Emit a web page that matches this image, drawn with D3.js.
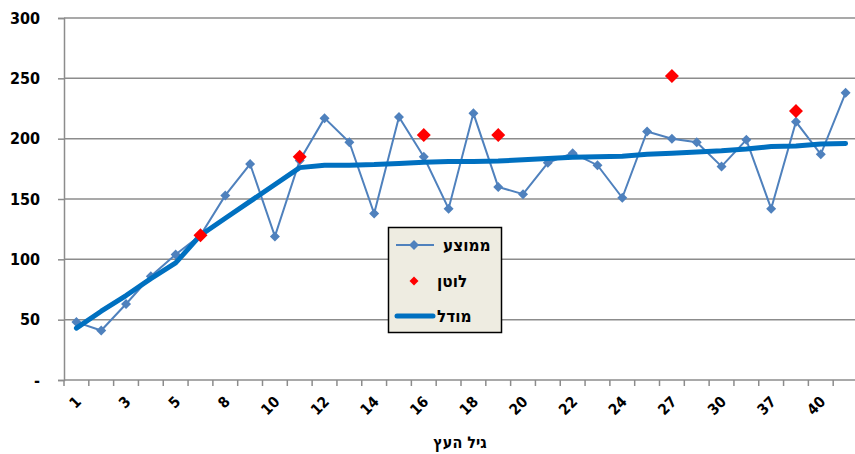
<!DOCTYPE html>
<html><head><meta charset="utf-8">
<script src="https://cdn.jsdelivr.net/npm/d3@7"></script>
<style>
body{margin:0;background:#fff;}
svg text{font-family:"DejaVu Sans Condensed","DejaVu Sans",sans-serif;font-weight:bold;fill:#000;}
</style></head>
<body><svg id="c" width="855" height="454"></svg>
<script>
const categories = ["1","2","3","4","5","7","8","9","10","11","12","13","14","15","16","17","18","19","20","21","22","23","24","25","27","28","30","33","37","38","40","45"];
const tickLabels = ["1","3","5","8","10","12","14","16","18","20","22","24","27","30","37","40"];
const avgValues = [48,41,63,86,104,120,153,179,119,182,217,197,138,218,185,142,221,160,154,180,188,178,151,206,200,197,177,199,142,214,187,238];
const lotanValues = [null,null,null,null,null,120,null,null,null,185,null,null,null,null,203,null,null,203,null,null,null,null,null,null,252,null,null,null,null,223,null,null];
const modelValues = [43,57,70,84,97,120,134,148,162,176,178,178,178.5,179.5,180.5,181,181,181.5,182.5,183.5,184.5,185,185.5,187,188,189,190,191.5,193.5,194,195.5,196];
const yTicks = [0,50,100,150,200,250,300];
const seriesNames = ["ממוצע","לוטן","מודל"];
const xTitle = "גיל העץ";

const svg = d3.select("#c");
const L=64,R=858,T=18,B=380;
const x = d3.scaleBand().domain(categories).range([L,R]).paddingInner(0).paddingOuter(0);
const y = d3.scaleLinear().domain([0,300]).range([B,T]);
const cx = c => x(c)+x.bandwidth()/2;
const diamondPath = r => `M0,${-r}L${r},0L0,${r}L${-r},0Z`;

// gridlines
svg.append("g").selectAll("line").data(yTicks.filter(d=>d>0)).join("line")
  .attr("x1",L).attr("x2",R).attr("y1",d=>y(d)).attr("y2",d=>y(d))
  .attr("stroke","#8c8c8c").attr("stroke-width",1.5);

// y axis
const ya = svg.append("g").attr("transform",`translate(${L},0)`)
  .call(d3.axisLeft(y).tickValues(yTicks).tickSize(6).tickPadding(18).tickFormat(d=>d===0?"-":d));
ya.select(".domain").attr("stroke","#8c8c8c").attr("stroke-width",1.5);
ya.selectAll(".tick line").attr("stroke","#8c8c8c").attr("stroke-width",1.5);
ya.selectAll("text").style("font-size","16px").attr("fill","#000");

// x axis
const xg = svg.append("g");
xg.append("line").attr("x1",L).attr("x2",R).attr("y1",B).attr("y2",B).attr("stroke","#8c8c8c").attr("stroke-width",1.5);
xg.selectAll("line.tk").data(categories.concat(["__end"])).join("line").attr("class","tk")
  .attr("x1",(d,i)=>i<categories.length?x(d):R).attr("x2",(d,i)=>i<categories.length?x(d):R)
  .attr("y1",B).attr("y2",B+6).attr("stroke","#8c8c8c").attr("stroke-width",1.5);
xg.selectAll("text").data(categories.filter((d,i)=>i%2===0)).join("text")
  .attr("transform",d=>`translate(${cx(d)+2},${B+19}) rotate(-45)`)
  .attr("text-anchor","end").attr("dy","0.35em")
  .style("font-size","15px")
  .text((d,i)=>tickLabels[i]);

svg.append("text").attr("x",460).attr("y",448).attr("text-anchor","middle").style("font-size","16px").text(xTitle);

// average series
const lineAvg = d3.line().x((d,i)=>cx(categories[i])).y(d=>y(d));
svg.append("path").attr("d",lineAvg(avgValues)).attr("fill","none").attr("stroke","#4F81BD").attr("stroke-width",2);
svg.append("g").selectAll("path").data(avgValues).join("path")
  .attr("transform",(d,i)=>`translate(${cx(categories[i])},${y(d)})`)
  .attr("d",diamondPath(5)).attr("fill","#4F81BD");

// model line
const lineModel = d3.line().x((d,i)=>cx(categories[i])).y(d=>y(d));
svg.append("path").attr("d",lineModel(modelValues)).attr("fill","none").attr("stroke","#0070C0").attr("stroke-width",5).attr("stroke-linejoin","round").attr("stroke-linecap","round");

// lotan points
svg.append("g").selectAll("path").data(lotanValues.map((v,i)=>({v,i})).filter(d=>d.v!=null)).join("path")
  .attr("transform",d=>`translate(${cx(categories[d.i])},${y(d.v)})`)
  .attr("d",diamondPath(7)).attr("fill","#FF0000");

// legend
const lg = svg.append("g");
lg.append("rect").attr("x",388.5).attr("y",227.5).attr("width",113).attr("height",105)
  .attr("fill","#EEECE1").attr("stroke","#000").attr("stroke-width",1.5);
const ly=[245,281,316];
lg.append("line").attr("x1",396).attr("x2",434).attr("y1",ly[0]).attr("y2",ly[0]).attr("stroke","#4F81BD").attr("stroke-width",2);
lg.append("path").attr("transform",`translate(414,${ly[0]})`).attr("d",diamondPath(5)).attr("fill","#4F81BD");
lg.append("path").attr("transform",`translate(414,${ly[1]})`).attr("d",diamondPath(4.5)).attr("fill","#FF0000");
lg.append("line").attr("x1",397).attr("x2",433).attr("y1",ly[2]).attr("y2",ly[2]).attr("stroke","#0070C0").attr("stroke-width",5).attr("stroke-linecap","round");
const lx=[443,437,437];
lg.selectAll("text").data(seriesNames).join("text")
  .attr("x",(d,i)=>lx[i]).attr("y",(d,i)=>ly[i]).attr("dy","0.35em")
  .attr("text-anchor","start").style("font-size","17px").text(d=>d);
</script></body></html>
